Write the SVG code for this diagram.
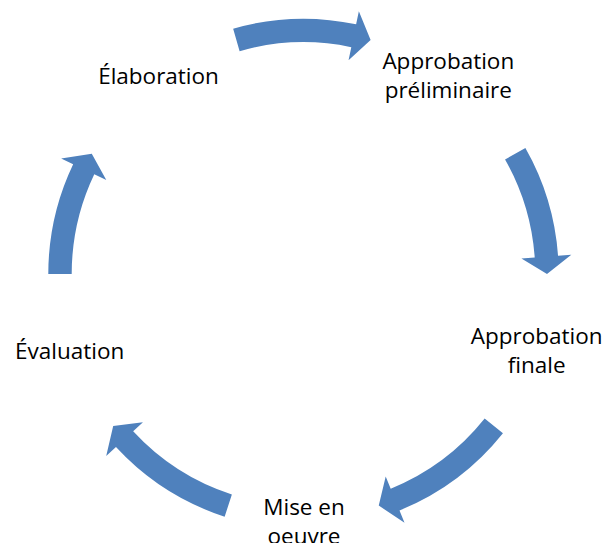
<svg xmlns="http://www.w3.org/2000/svg" width="608" height="543" viewBox="0 0 608 543">
<style>
.arrow{fill:#4F81BD;stroke:none}
.lbl{font-family:"Open Sans","Liberation Sans",sans-serif;font-size:22.5px;fill:#000;text-anchor:middle}
</style>
<rect width="608" height="543" fill="#fff"/>
<g id="connectors">
<path class="arrow" d="M233.16,28.69 A255.2,255.2 0 0 1 356.12,24.28 L358.86,11.27 L370.62,39.93 L348.55,60.20 L351.30,47.18 A231.8,231.8 0 0 0 239.61,51.18 Z"/>
<path class="arrow" d="M525.39,147.95 A255.2,255.2 0 0 1 558.05,255.75 L571.31,254.80 L547,274 L521.44,258.38 L534.71,257.43 A231.8,231.8 0 0 0 505.05,159.50 Z"/>
<path class="arrow" d="M502.94,433.21 A255.2,255.2 0 0 1 399.51,510.45 L404.52,522.77 L378.75,505.58 L385.70,476.45 L390.71,488.77 A231.8,231.8 0 0 0 484.66,418.62 Z"/>
<path class="arrow" d="M224.64,516.71 A255.2,255.2 0 0 1 115.97,447.09 L106.20,456.11 L113.20,425.91 L142.94,422.19 L133.17,431.22 A231.8,231.8 0 0 0 231.87,494.46 Z"/>
<path class="arrow" d="M48.3,274 A255.2,255.2 0 0 1 73.16,164.13 L61.15,158.41 L91.78,153.73 L106.28,179.93 L94.28,174.21 A231.8,231.8 0 0 0 71.7,274 Z"/>
</g>
<g id="node-elaboration"><text class="lbl" x="158.5" y="84.3">Élaboration</text></g>
<g id="node-approbation-preliminaire"><text class="lbl" x="448.3" y="69.3">Approbation</text><text class="lbl" x="448.3" y="98.3">préliminaire</text></g>
<g id="node-approbation-finale"><text class="lbl" x="536.7" y="344.3">Approbation</text><text class="lbl" x="536.7" y="373.3">finale</text></g>
<g id="node-mise-en-oeuvre"><text class="lbl" x="304" y="515">Mise en</text><text class="lbl" x="304" y="544">oeuvre</text></g>
<g id="node-evaluation"><text class="lbl" x="69.7" y="359.3">Évaluation</text></g>
</svg>
